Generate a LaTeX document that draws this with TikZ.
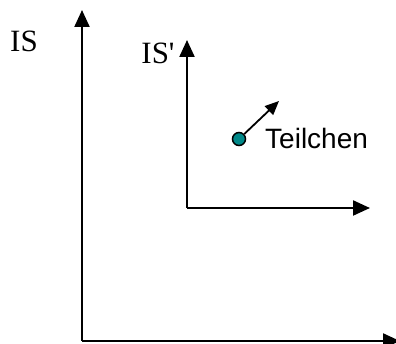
\documentclass[tikz,border=0pt]{standalone}
\usepackage{fontspec}
\setmainfont{Liberation Serif}
\newfontfamily\labelsans{Liberation Sans}
\usetikzlibrary{arrows.meta}
\definecolor{particle}{RGB}{0,136,136}
\tikzset{
  axis/.style={line width=2.2pt, -{Triangle[length=17pt,width=15pt]}},
  velocity/.style={line width=1.8pt, -{Triangle[length=14pt,width=12pt]}},
  framelabel/.style={inner sep=0pt, font=\fontsize{31}{31}\selectfont},
}
\begin{document}
\begin{tikzpicture}[x=1pt, y=-1pt]
  \clip (0,0) rectangle (396,344);
  % frame IS
  \coordinate (O) at (82,341);
  \coordinate (Ytop) at (82,10);
  \coordinate (Xend) at (400,341);
  \draw[axis] (O) -- (Ytop);
  \draw[axis] (O) -- (Xend);
  \node[framelabel] (IS) at (24,41) {IS};
  % frame IS'
  \coordinate (Op) at (187,208);
  \coordinate (Yptop) at (187,40);
  \coordinate (Xpend) at (370,208);
  \draw[axis] (Op) -- (Yptop);
  \draw[axis] (Op) -- (Xpend);
  \node[framelabel] (ISp) at (158,53) {IS\textquotesingle};
  % particle with its velocity
  \node[circle, draw, line width=1.5pt, fill=particle, minimum size=13pt, inner sep=0pt] (p) at (239,139) {};
  \coordinate (v) at (279,101);
  \draw[velocity] (p) -- (v);
  \node[anchor=base west, inner sep=0pt, font=\labelsans\fontsize{28}{28}\selectfont] (name) at (265,149) {Teilchen};
\end{tikzpicture}
\end{document}
